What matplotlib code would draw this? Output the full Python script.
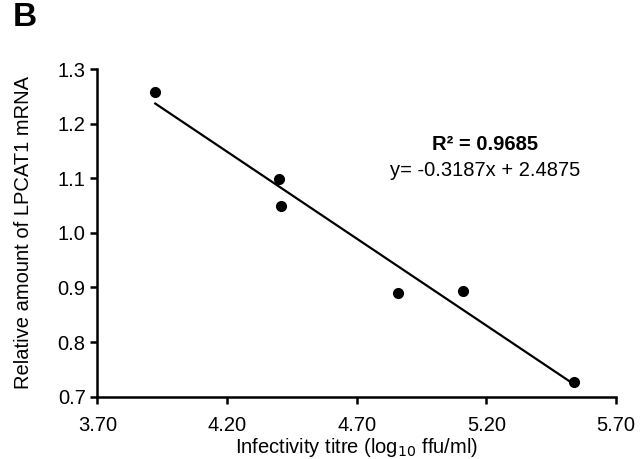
import numpy as np
import matplotlib.pyplot as plt

plt.rcParams['font.family'] = ['Liberation Sans', 'DejaVu Sans']

# data
titre = [3.923, 4.400, 4.409, 4.858, 5.108, 5.537]
lpcat1 = [1.259, 1.099, 1.050, 0.890, 0.894, 0.726]
slope = -0.3187
intercept = 2.4875
r2 = 0.9685

xticks = [3.70, 4.20, 4.70, 5.20, 5.70]
yticks = [0.7, 0.8, 0.9, 1.0, 1.1, 1.2, 1.3]

fig = plt.figure(figsize=(6.41, 4.59), dpi=100)
ax = fig.add_axes([0.152, 0.136, 0.809, 0.713])

ax.plot(titre, lpcat1, 'o', color='black', ms=7)
xfit = np.array([min(titre), max(titre)])
ax.plot(xfit, slope * xfit + intercept, '-', color='black', lw=1.6)

ax.set_xlim(3.70, 5.70)
ax.set_ylim(0.7, 1.3)
ax.set_xticks(xticks)
ax.set_xticklabels(['%.2f' % v for v in xticks])
ax.set_yticks(yticks)
ax.set_yticklabels(['%.1f' % v for v in yticks])

for s in ['top', 'right']:
    ax.spines[s].set_visible(False)
for s in ['left', 'bottom']:
    ax.spines[s].set_linewidth(1.8)
ax.tick_params(width=1.8, length=5, labelsize=14.5, direction='out')
ax.tick_params(axis='x', pad=9)

ax.set_xlabel('Infectivity titre (log$_{10}$ ffu/ml)', fontsize=14.5, labelpad=1)
ax.set_ylabel('Relative amount of LPCAT1 mRNA', fontsize=14.5)
ax.yaxis.set_label_coords(-0.124, 0.5)

ax.text(5.194, 1.163, 'R² = %.4f' % r2, fontsize=14.5, fontweight='bold', ha='center', va='center')
ax.text(5.194, 1.114, 'y= %.4fx + %.4f' % (slope, intercept), fontsize=14.5, ha='center', va='center')

fig.text(0.02, 0.962, 'B', fontsize=24, fontweight='bold', va='center')

fig.savefig('out.png', dpi=100)
